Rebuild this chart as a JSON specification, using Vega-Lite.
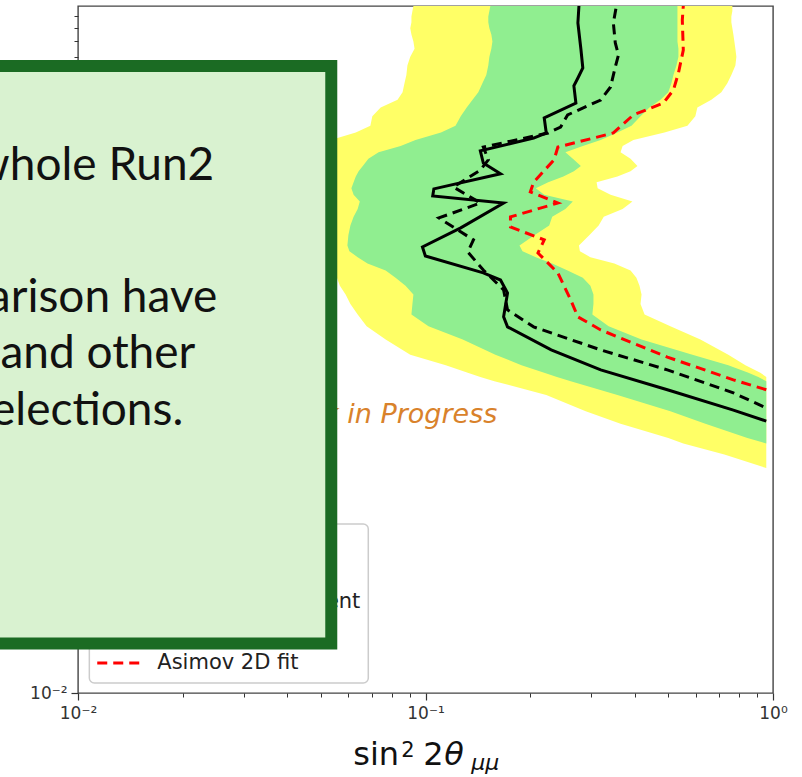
{
  "$schema": "https://vega.github.io/schema/vega-lite/v6.json",
  "width": 695,
  "height": 687,
  "autosize": {"type": "none"},
  "padding": {"left": 78, "top": 6, "right": 29, "bottom": 84},
  "background": "white",
  "config": {"view": {"stroke": "#444", "strokeWidth": 1.4}, "axis": {"grid": false, "domain": false}},
  "resolve": {"axis": {"x": "independent", "y": "independent"}},
  "datasets": {
    "bands": [
      {"y":10,"lo2":0.0923,"hi2":0.7639,"lo1":0.1537,"hi1":0.5309},
      {"y":9.5,"lo2":0.0917,"hi2":0.7639,"lo1":0.1527,"hi1":0.5309},
      {"y":9,"lo2":0.0911,"hi2":0.7588,"lo1":0.1516,"hi1":0.5309},
      {"y":8.5,"lo2":0.0911,"hi2":0.7588,"lo1":0.1516,"hi1":0.5309},
      {"y":8,"lo2":0.0904,"hi2":0.7639,"lo1":0.1527,"hi1":0.5309},
      {"y":7.5,"lo2":0.0911,"hi2":0.7691,"lo1":0.1547,"hi1":0.5309},
      {"y":7,"lo2":0.0923,"hi2":0.7742,"lo1":0.1558,"hi1":0.5309},
      {"y":6.5,"lo2":0.093,"hi2":0.7794,"lo1":0.1547,"hi1":0.5344},
      {"y":6,"lo2":0.0904,"hi2":0.7845,"lo1":0.1527,"hi1":0.5344},
      {"y":5.5,"lo2":0.0887,"hi2":0.7794,"lo1":0.1516,"hi1":0.5274},
      {"y":5,"lo2":0.0881,"hi2":0.7588,"lo1":0.1496,"hi1":0.517},
      {"y":4.6,"lo2":0.087,"hi2":0.7389,"lo1":0.1458,"hi1":0.5101},
      {"y":4.2,"lo2":0.0859,"hi2":0.7101,"lo1":0.1419,"hi1":0.4997},
      {"y":3.9,"lo2":0.0831,"hi2":0.6647,"lo1":0.1366,"hi1":0.4745},
      {"y":3.6,"lo2":0.0743,"hi2":0.6058,"lo1":0.1314,"hi1":0.441},
      {"y":3.3,"lo2":0.0703,"hi2":0.5977,"lo1":0.1263,"hi1":0.4157},
      {"y":3,"lo2":0.0694,"hi2":0.5672,"lo1":0.122,"hi1":0.3916},
      {"y":2.8,"lo2":0.063,"hi2":0.4871,"lo1":0.1108,"hi1":0.3567},
      {"y":2.6,"lo2":0.0534,"hi2":0.3965,"lo1":0.0936,"hi1":0.3193},
      {"y":2.45,"lo2":0.0505,"hi2":0.3692,"lo1":0.0848,"hi1":0.2836},
      {"y":2.3,"lo2":0.0492,"hi2":0.3642,"lo1":0.0733,"hi1":0.2527},
      {"y":2.15,"lo2":0.0482,"hi2":0.3891,"lo1":0.0685,"hi1":0.2655},
      {"y":2,"lo2":0.0473,"hi2":0.4073,"lo1":0.066,"hi1":0.28},
      {"y":1.9,"lo2":0.0467,"hi2":0.3891,"lo1":0.0642,"hi1":0.2673},
      {"y":1.8,"lo2":0.0467,"hi2":0.3567,"lo1":0.063,"hi1":0.2493},
      {"y":1.7,"lo2":0.0467,"hi2":0.3107,"lo1":0.0621,"hi1":0.2255},
      {"y":1.6,"lo2":0.0467,"hi2":0.3129,"lo1":0.0612,"hi1":0.2077},
      {"y":1.5,"lo2":0.0467,"hi2":0.3408,"lo1":0.0621,"hi1":0.2196},
      {"y":1.4,"lo2":0.0467,"hi2":0.394,"lo1":0.0647,"hi1":0.2655},
      {"y":1.3,"lo2":0.0467,"hi2":0.3692,"lo1":0.0638,"hi1":0.2527},
      {"y":1.2,"lo2":0.0473,"hi2":0.3258,"lo1":0.0621,"hi1":0.2315},
      {"y":1.1,"lo2":0.0482,"hi2":0.315,"lo1":0.0608,"hi1":0.227},
      {"y":1,"lo2":0.0492,"hi2":0.2964,"lo1":0.06,"hi1":0.2062},
      {"y":0.9,"lo2":0.0505,"hi2":0.2764,"lo1":0.0596,"hi1":0.1864},
      {"y":0.85,"lo2":0.0516,"hi2":0.2782,"lo1":0.0604,"hi1":0.1902},
      {"y":0.8,"lo2":0.0527,"hi2":0.2982,"lo1":0.0638,"hi1":0.2077},
      {"y":0.75,"lo2":0.0541,"hi2":0.3495,"lo1":0.0681,"hi1":0.2315},
      {"y":0.7,"lo2":0.0552,"hi2":0.3891,"lo1":0.0768,"hi1":0.2564},
      {"y":0.65,"lo2":0.0556,"hi2":0.4045,"lo1":0.082,"hi1":0.2836},
      {"y":0.6,"lo2":0.0567,"hi2":0.4129,"lo1":0.0876,"hi1":0.2982},
      {"y":0.55,"lo2":0.0589,"hi2":0.4185,"lo1":0.0923,"hi1":0.3043},
      {"y":0.5,"lo2":0.0608,"hi2":0.4157,"lo1":0.0917,"hi1":0.3043},
      {"y":0.45,"lo2":0.0638,"hi2":0.427,"lo1":0.0911,"hi1":0.3021},
      {"y":0.4,"lo2":0.0677,"hi2":0.5066,"lo1":0.102,"hi1":0.3365},
      {"y":0.35,"lo2":0.0768,"hi2":0.6182,"lo1":0.128,"hi1":0.4185},
      {"y":0.3,"lo2":0.0904,"hi2":0.7437,"lo1":0.1589,"hi1":0.5863},
      {"y":0.27,"lo2":0.1144,"hi2":0.833,"lo1":0.1889,"hi1":0.7437},
      {"y":0.25,"lo2":0.1323,"hi2":0.9195,"lo1":0.2196,"hi1":0.8495},
      {"y":0.24,"lo2":0.1438,"hi2":0.9565,"lo1":0.2389,"hi1":0.9073},
      {"y":0.23,"lo2":0.1578,"hi2":0.9565,"lo1":0.2618,"hi1":0.9565},
      {"y":0.2,"lo2":0.2226,"hi2":0.9565,"lo1":0.3567,"hi1":0.9565},
      {"y":0.17,"lo2":0.2891,"hi2":0.9565,"lo1":0.5066,"hi1":0.9565},
      {"y":0.15,"lo2":0.3642,"hi2":0.9565,"lo1":0.6388,"hi1":0.9565},
      {"y":0.13,"lo2":0.4997,"hi2":0.9565,"lo1":0.844,"hi1":0.9565},
      {"y":0.123,"lo2":0.5519,"hi2":0.9565,"lo1":0.9565,"hi1":0.9565},
      {"y":0.11,"lo2":0.7245,"hi2":0.9565,"lo1":null,"hi1":null},
      {"y":0.096,"lo2":0.9565,"hi2":0.9565,"lo1":null,"hi1":null}
    ],
    "lines": [
      {"s":"obs","x":0.2764,"y":10},{"s":"obs","x":0.2745,"y":8.43},{"s":"obs","x":0.28,"y":6.49},{"s":"obs","x":0.2836,"y":5.36},
      {"s":"obs","x":0.2745,"y":4.85},{"s":"obs","x":0.2673,"y":4.48},{"s":"obs","x":0.2709,"y":3.77},{"s":"obs","x":0.2196,"y":3.25},
      {"s":"obs","x":0.2226,"y":2.79},{"s":"obs","x":0.2047,"y":2.65},{"s":"obs","x":0.1438,"y":2.33},{"s":"obs","x":0.1467,"y":2.06},
      {"s":"obs","x":0.1644,"y":1.85},{"s":"obs","x":0.1057,"y":1.59},{"s":"obs","x":0.1049,"y":1.48},{"s":"obs","x":0.1678,"y":1.38},
      {"s":"obs","x":0.1263,"y":1.074},{"s":"obs","x":0.098,"y":0.887},{"s":"obs","x":0.0999,"y":0.81},{"s":"obs","x":0.1467,"y":0.683},
      {"s":"obs","x":0.1644,"y":0.636},{"s":"obs","x":0.1722,"y":0.558},{"s":"obs","x":0.1678,"y":0.439},{"s":"obs","x":0.1722,"y":0.397},
      {"s":"obs","x":0.23,"y":0.315},{"s":"obs","x":0.3193,"y":0.2576},{"s":"obs","x":0.4966,"y":0.211},{"s":"obs","x":0.7691,"y":0.172},
      {"s":"obs","x":0.9565,"y":0.154},
      {"s":"exp","x":0.3542,"y":10},{"s":"exp","x":0.3472,"y":8.43},{"s":"exp","x":0.3517,"y":6.9},{"s":"exp","x":0.3592,"y":6.11},
      {"s":"exp","x":0.3517,"y":5.42},{"s":"exp","x":0.3408,"y":4.43},{"s":"exp","x":0.3193,"y":3.885},{"s":"exp","x":0.2564,"y":3.345},
      {"s":"exp","x":0.2448,"y":2.96},{"s":"exp","x":0.2255,"y":2.79},{"s":"exp","x":0.1467,"y":2.42},{"s":"exp","x":0.1516,"y":2.13},
      {"s":"exp","x":0.1438,"y":1.92},{"s":"exp","x":0.1203,"y":1.62},{"s":"exp","x":0.1438,"y":1.38},{"s":"exp","x":0.1093,"y":1.187},
      {"s":"exp","x":0.1374,"y":0.952},{"s":"exp","x":0.1323,"y":0.843},{"s":"exp","x":0.1467,"y":0.7035},{"s":"exp","x":0.1678,"y":0.576},
      {"s":"exp","x":0.1722,"y":0.471},{"s":"exp","x":0.2047,"y":0.397},{"s":"exp","x":0.3193,"y":0.315},{"s":"exp","x":0.4966,"y":0.2576},
      {"s":"exp","x":0.7691,"y":0.2045},{"s":"exp","x":0.9378,"y":0.178},
      {"s":"asimov","x":0.5519,"y":10},{"s":"asimov","x":0.5483,"y":8.69},{"s":"asimov","x":0.5519,"y":6.42},{"s":"asimov","x":0.5344,"y":5.1},
      {"s":"asimov","x":0.517,"y":4.3},{"s":"asimov","x":0.484,"y":3.77},{"s":"asimov","x":0.3965,"y":3.345},{"s":"asimov","x":0.3472,"y":2.79},
      {"s":"asimov","x":0.2404,"y":2.42},{"s":"asimov","x":0.2344,"y":2.13},{"s":"asimov","x":0.2047,"y":1.7},{"s":"asimov","x":0.2003,"y":1.542},
      {"s":"asimov","x":0.2404,"y":1.38},{"s":"asimov","x":0.1756,"y":1.2},{"s":"asimov","x":0.1756,"y":1.085},{"s":"asimov","x":0.2196,"y":0.952},
      {"s":"asimov","x":0.2107,"y":0.835},{"s":"asimov","x":0.2404,"y":0.683},{"s":"asimov","x":0.2618,"y":0.5205},{"s":"asimov","x":0.2745,"y":0.439},
      {"s":"asimov","x":0.3193,"y":0.385},{"s":"asimov","x":0.4966,"y":0.293},{"s":"asimov","x":0.7691,"y":0.233},{"s":"asimov","x":0.9565,"y":0.211}
    ]
  },
  "layer": [
    {
      "data": {"name": "bands"},
      "mark": {"type": "area", "orient": "horizontal", "color": "#ffff66", "clip": true},
      "encoding": {
        "y": {"field": "y", "type": "quantitative", "scale": {"type": "log", "domain": [0.01, 10], "nice": false},
          "axis": {"title": null, "orient": "left", "values": [0.01, 0.1, 1],
            "labelExpr": "datum.value < 0.05 ? '10⁻²' : datum.value < 0.5 ? '10⁻¹' : '10⁰'",
            "labelOverlap": false, "labelFlush": false, "tickSize": 7,
            "tickColor": "#333", "tickWidth": 1.2, "labelFont": "DejaVu Sans", "labelFontSize": 17, "labelColor": "#333", "labelPadding": 4}},
        "x": {"field": "lo2", "type": "quantitative", "scale": {"type": "log", "domain": [0.01, 1], "nice": false},
          "axis": {"title": null, "orient": "bottom", "values": [0.01, 0.1, 1],
            "labelExpr": "datum.value < 0.05 ? '10⁻²' : datum.value < 0.5 ? '10⁻¹' : '10⁰'",
            "labelOverlap": false, "labelFlush": false, "tickSize": 7,
            "tickColor": "#333", "tickWidth": 1.2, "labelFont": "DejaVu Sans", "labelFontSize": 17, "labelColor": "#333", "labelPadding": 5}},
        "x2": {"field": "hi2"}
      }
    },
    {
      "data": {"name": "bands"},
      "transform": [{"filter": "isValid(datum.lo1)"}],
      "mark": {"type": "area", "orient": "horizontal", "color": "#90ee90", "clip": true},
      "encoding": {
        "y": {"field": "y", "type": "quantitative", "scale": {"type": "log", "domain": [0.01, 10], "nice": false},
          "axis": {"title": null, "orient": "left", "values": [0.02,0.03,0.04,0.05,0.06,0.07,0.08,0.09,0.2,0.3,0.4,0.5,0.6,0.7,0.8,0.9,2,3,4,5,6,7,8,9],
            "labels": false, "tickSize": 4, "tickColor": "#333", "tickWidth": 1}},
        "x": {"field": "lo1", "type": "quantitative", "scale": {"type": "log", "domain": [0.01, 1], "nice": false},
          "axis": {"title": null, "orient": "bottom", "values": [0.02,0.03,0.04,0.05,0.06,0.07,0.08,0.09,0.2,0.3,0.4,0.5,0.6,0.7,0.8,0.9],
            "labels": false, "tickSize": 4, "tickColor": "#333", "tickWidth": 1}},
        "x2": {"field": "hi1"}
      }
    },
    {
      "data": {"name": "lines"},
      "transform": [{"filter": "datum.s == 'obs'"}],
      "mark": {"type": "line", "color": "black", "strokeWidth": 3, "clip": true},
      "encoding": {
        "x": {"field": "x", "type": "quantitative", "scale": {"type": "log", "domain": [0.01, 1], "nice": false}, "axis": null},
        "y": {"field": "y", "type": "quantitative", "scale": {"type": "log", "domain": [0.01, 10], "nice": false}, "axis": null},
        "order": {"field": "y", "type": "quantitative"}
      }
    },
    {
      "data": {"name": "lines"},
      "transform": [{"filter": "datum.s == 'exp'"}],
      "mark": {"type": "line", "color": "black", "strokeWidth": 3, "strokeDash": [10, 6], "clip": true},
      "encoding": {
        "x": {"field": "x", "type": "quantitative", "scale": {"type": "log", "domain": [0.01, 1], "nice": false}, "axis": null},
        "y": {"field": "y", "type": "quantitative", "scale": {"type": "log", "domain": [0.01, 10], "nice": false}, "axis": null},
        "order": {"field": "y", "type": "quantitative"}
      }
    },
    {
      "data": {"name": "lines"},
      "transform": [{"filter": "datum.s == 'asimov'"}],
      "mark": {"type": "line", "color": "#ff0000", "strokeWidth": 3, "strokeDash": [10, 6], "clip": true},
      "encoding": {
        "x": {"field": "x", "type": "quantitative", "scale": {"type": "log", "domain": [0.01, 1], "nice": false}, "axis": null},
        "y": {"field": "y", "type": "quantitative", "scale": {"type": "log", "domain": [0.01, 10], "nice": false}, "axis": null},
        "order": {"field": "y", "type": "quantitative"}
      }
    },
    {
      "data": {"values": [{}]},
      "mark": {"type": "text", "text": "Work in Progress", "align": "right", "baseline": "alphabetic", "font": "DejaVu Sans", "fontStyle": "italic", "fontSize": 27, "color": "#d9822b", "clip": false},
      "encoding": {
        "x": {"datum": 0.1609, "type": "quantitative", "scale": {"type": "log", "domain": [0.01, 1], "nice": false}, "axis": null},
        "y": {"datum": 0.151, "type": "quantitative", "scale": {"type": "log", "domain": [0.01, 10], "nice": false}, "axis": null}
      }
    },
    {
      "data": {"values": [{}]},
      "mark": {"type": "rect", "fill": "#ffffff", "stroke": "#cccccc", "strokeWidth": 1.5, "cornerRadius": 5, "clip": false},
      "encoding": {
        "x": {"datum": 0.01078, "type": "quantitative", "scale": {"type": "log", "domain": [0.01, 1], "nice": false}, "axis": null},
        "x2": {"datum": 0.06845},
        "y": {"datum": 0.0547, "type": "quantitative", "scale": {"type": "log", "domain": [0.01, 10], "nice": false}, "axis": null},
        "y2": {"datum": 0.01106}
      }
    },
    {
      "data": {"values": [{}]},
      "mark": {"type": "rule", "color": "#ff0000", "strokeWidth": 3, "strokeDash": [10, 6], "clip": false},
      "encoding": {
        "x": {"datum": 0.01136, "type": "quantitative", "scale": {"type": "log", "domain": [0.01, 1], "nice": false}, "axis": null},
        "x2": {"datum": 0.01501},
        "y": {"datum": 0.01352, "type": "quantitative", "scale": {"type": "log", "domain": [0.01, 10], "nice": false}, "axis": null}
      }
    },
    {
      "data": {"values": [{}]},
      "mark": {"type": "text", "text": "Asimov 2D fit", "align": "left", "baseline": "middle", "font": "DejaVu Sans", "fontSize": 21, "color": "#222", "clip": false},
      "encoding": {
        "x": {"datum": 0.01691, "type": "quantitative", "scale": {"type": "log", "domain": [0.01, 1], "nice": false}, "axis": null},
        "y": {"datum": 0.01352, "type": "quantitative", "scale": {"type": "log", "domain": [0.01, 10], "nice": false}, "axis": null}
      }
    },
    {
      "data": {"values": [{}]},
      "mark": {"type": "text", "text": "ent", "align": "right", "baseline": "middle", "font": "DejaVu Sans", "fontSize": 21, "color": "#222", "clip": false},
      "encoding": {
        "x": {"datum": 0.06494, "type": "quantitative", "scale": {"type": "log", "domain": [0.01, 1], "nice": false}, "axis": null},
        "y": {"datum": 0.02496, "type": "quantitative", "scale": {"type": "log", "domain": [0.01, 10], "nice": false}, "axis": null}
      }
    },
    {
      "data": {"values": [{}]},
      "mark": {"type": "rect", "fill": "#d9f2d0", "stroke": "#1b6b23", "strokeWidth": 12, "clip": false},
      "encoding": {
        "x": {"datum": 0.005234, "type": "quantitative", "scale": {"type": "log", "domain": [0.01, 1], "nice": false}, "axis": null},
        "x2": {"datum": 0.05356},
        "y": {"datum": 5.47, "type": "quantitative", "scale": {"type": "log", "domain": [0.01, 10], "nice": false}, "axis": null},
        "y2": {"datum": 0.01645}
      }
    },
    {
      "data": {"values": [{}]},
      "mark": {"type": "text", "text": "whole Run2", "align": "right", "baseline": "alphabetic", "font": "Lato", "fontSize": 46, "color": "#111", "clip": false},
      "encoding": {
        "x": {"datum": 0.02467, "type": "quantitative", "scale": {"type": "log", "domain": [0.01, 1], "nice": false}, "axis": null},
        "y": {"datum": 1.739, "type": "quantitative", "scale": {"type": "log", "domain": [0.01, 10], "nice": false}, "axis": null}
      }
    },
    {
      "data": {"values": [{}]},
      "mark": {"type": "text", "text": "arison have", "align": "right", "baseline": "alphabetic", "font": "Lato", "fontSize": 46, "color": "#111", "clip": false},
      "encoding": {
        "x": {"datum": 0.02517, "type": "quantitative", "scale": {"type": "log", "domain": [0.01, 1], "nice": false}, "axis": null},
        "y": {"datum": 0.4625, "type": "quantitative", "scale": {"type": "log", "domain": [0.01, 10], "nice": false}, "axis": null}
      }
    },
    {
      "data": {"values": [{}]},
      "mark": {"type": "text", "text": "and other", "align": "right", "baseline": "alphabetic", "font": "Lato", "fontSize": 46, "color": "#111", "clip": false},
      "encoding": {
        "x": {"datum": 0.02176, "type": "quantitative", "scale": {"type": "log", "domain": [0.01, 1], "nice": false}, "axis": null},
        "y": {"datum": 0.2625, "type": "quantitative", "scale": {"type": "log", "domain": [0.01, 10], "nice": false}, "axis": null}
      }
    },
    {
      "data": {"values": [{}]},
      "mark": {"type": "text", "text": "elections.", "align": "right", "baseline": "alphabetic", "font": "Lato", "fontSize": 46, "color": "#111", "clip": false},
      "encoding": {
        "x": {"datum": 0.02009, "type": "quantitative", "scale": {"type": "log", "domain": [0.01, 1], "nice": false}, "axis": null},
        "y": {"datum": 0.148, "type": "quantitative", "scale": {"type": "log", "domain": [0.01, 10], "nice": false}, "axis": null}
      }
    },
    {
      "data": {"values": [{}]},
      "mark": {"type": "text", "text": "sin", "align": "left", "baseline": "alphabetic", "font": "DejaVu Sans", "fontSize": 32, "color": "#111", "clip": false},
      "encoding": {
        "x": {"datum": 0.06197, "type": "quantitative", "scale": {"type": "log", "domain": [0.01, 1], "nice": false}, "axis": null},
        "y": {"datum": 0.004849, "type": "quantitative", "scale": {"type": "log", "domain": [0.01, 10], "nice": false}, "axis": null}
      }
    },
    {
      "data": {"values": [{}]},
      "mark": {"type": "text", "text": "2", "align": "left", "baseline": "alphabetic", "font": "DejaVu Sans", "fontSize": 21, "color": "#111", "clip": false},
      "encoding": {
        "x": {"datum": 0.08518, "type": "quantitative", "scale": {"type": "log", "domain": [0.01, 1], "nice": false}, "axis": null},
        "y": {"datum": 0.005253, "type": "quantitative", "scale": {"type": "log", "domain": [0.01, 10], "nice": false}, "axis": null}
      }
    },
    {
      "data": {"values": [{}]},
      "mark": {"type": "text", "text": "2", "align": "left", "baseline": "alphabetic", "font": "DejaVu Sans", "fontSize": 32, "color": "#111", "clip": false},
      "encoding": {
        "x": {"datum": 0.09856, "type": "quantitative", "scale": {"type": "log", "domain": [0.01, 1], "nice": false}, "axis": null},
        "y": {"datum": 0.004849, "type": "quantitative", "scale": {"type": "log", "domain": [0.01, 10], "nice": false}, "axis": null}
      }
    },
    {
      "data": {"values": [{}]},
      "mark": {"type": "text", "text": "θ", "align": "left", "baseline": "alphabetic", "font": "DejaVu Sans", "fontStyle": "italic", "fontSize": 32, "color": "#111", "clip": false},
      "encoding": {
        "x": {"datum": 0.1133, "type": "quantitative", "scale": {"type": "log", "domain": [0.01, 1], "nice": false}, "axis": null},
        "y": {"datum": 0.004849, "type": "quantitative", "scale": {"type": "log", "domain": [0.01, 10], "nice": false}, "axis": null}
      }
    },
    {
      "data": {"values": [{}]},
      "mark": {"type": "text", "text": "μμ", "align": "left", "baseline": "alphabetic", "font": "DejaVu Sans", "fontStyle": "italic", "fontSize": 22, "color": "#111", "clip": false},
      "encoding": {
        "x": {"datum": 0.1354, "type": "quantitative", "scale": {"type": "log", "domain": [0.01, 1], "nice": false}, "axis": null},
        "y": {"datum": 0.004611, "type": "quantitative", "scale": {"type": "log", "domain": [0.01, 10], "nice": false}, "axis": null}
      }
    }
  ]
}
